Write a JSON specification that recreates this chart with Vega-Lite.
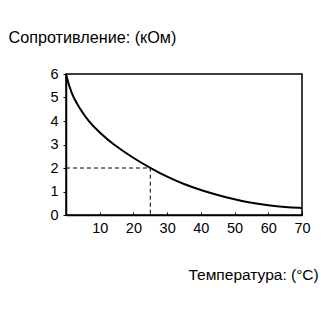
{
  "$schema": "https://vega.github.io/schema/vega-lite/v6.json",
  "autosize": "none",
  "width": 236,
  "height": 141,
  "padding": {"left": 66, "top": 74, "right": 30, "bottom": 118},
  "background": "white",
  "config": {
    "font": "Liberation Sans",
    "view": {"stroke": "black", "strokeWidth": 1.5},
    "axis": {
      "grid": false,
      "domainColor": "black",
      "domainWidth": 1.5,
      "tickColor": "black",
      "labelColor": "black",
      "labelFontSize": 14.5,
      "titleColor": "black",
      "titleFontSize": 15.5,
      "titleFontWeight": "normal"
    }
  },
  "datasets": {
    "curve": [
      {"t": 0, "r": 6.0},
      {"t": 1, "r": 5.45},
      {"t": 2.2, "r": 5.0},
      {"t": 4, "r": 4.55},
      {"t": 6.6, "r": 4.0},
      {"t": 10, "r": 3.5},
      {"t": 14, "r": 3.0},
      {"t": 20, "r": 2.42},
      {"t": 25, "r": 2.0},
      {"t": 30, "r": 1.62},
      {"t": 35, "r": 1.31},
      {"t": 40, "r": 1.06},
      {"t": 45, "r": 0.85},
      {"t": 50, "r": 0.66},
      {"t": 55, "r": 0.51},
      {"t": 60, "r": 0.41},
      {"t": 65, "r": 0.34},
      {"t": 70, "r": 0.3}
    ],
    "guide": [
      {"t": 0, "r": 2, "o": 1},
      {"t": 25, "r": 2, "o": 2},
      {"t": 25, "r": 0, "o": 3}
    ]
  },
  "encoding": {
    "x": {
      "field": "t",
      "type": "quantitative",
      "scale": {"domain": [0, 70], "nice": false},
      "axis": {
        "values": [10, 20, 30, 40, 50, 60, 70],
        "labelOverlap": false,
        "labelFlush": false,
        "tickSize": -3,
        "labelPadding": 9,
        "title": "Температура: (°C)",
        "titleAnchor": "start",
        "titleAlign": "left",
        "titleBaseline": "alphabetic",
        "titleX": 122,
        "titleY": 64
      }
    },
    "y": {
      "field": "r",
      "type": "quantitative",
      "scale": {"domain": [0, 6], "nice": false},
      "axis": {
        "values": [0, 1, 2, 3, 4, 5, 6],
        "labelOverlap": false,
        "labelFlush": false,
        "tickSize": 3,
        "labelPadding": 5,
        "title": "Сопротивление: (кОм)",
        "titleFontSize": 16.2,
        "titleAngle": 0,
        "titleAlign": "left",
        "titleBaseline": "alphabetic",
        "titleX": -58,
        "titleY": -32
      }
    }
  },
  "layer": [
    {
      "data": {"name": "guide"},
      "mark": {"type": "line", "color": "black", "strokeWidth": 1, "strokeDash": [4, 3]},
      "encoding": {
        "order": {"field": "o"}
      }
    },
    {
      "data": {"name": "curve"},
      "mark": {"type": "line", "color": "black", "strokeWidth": 2, "interpolate": "basis"},
      "encoding": {}
    }
  ]
}
